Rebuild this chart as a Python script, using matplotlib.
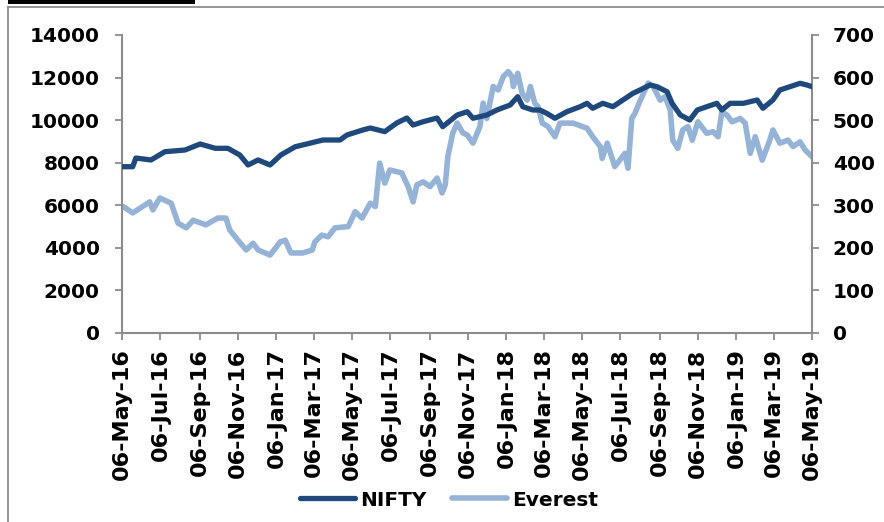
import matplotlib
matplotlib.use("Agg")
import matplotlib.pyplot as plt
import matplotlib.dates as mdates
from matplotlib.lines import Line2D
from matplotlib.patches import Rectangle
import pandas as pd

# ---------------- data ----------------
nifty_dates = [
    "2016-05-08", "2016-05-23", "2016-05-28", "2016-06-21", "2016-07-13", "2016-08-14",
    "2016-09-07", "2016-10-01", "2016-10-21", "2016-11-09", "2016-11-22", "2016-12-08",
    "2016-12-27", "2017-01-13", "2017-02-05", "2017-02-12", "2017-03-21", "2017-04-17",
    "2017-04-28", "2017-05-23", "2017-06-04", "2017-06-27", "2017-07-16", "2017-08-01",
    "2017-08-11", "2017-08-27", "2017-09-18", "2017-09-27", "2017-10-20", "2017-11-05",
    "2017-11-14", "2017-12-06", "2017-12-22", "2018-01-12", "2018-01-24", "2018-02-01",
    "2018-02-17", "2018-02-28", "2018-03-11", "2018-03-24", "2018-04-12", "2018-05-03",
    "2018-05-14", "2018-05-23", "2018-06-08", "2018-06-24", "2018-07-10", "2018-07-26",
    "2018-08-06", "2018-08-22", "2018-09-02", "2018-09-18", "2018-09-26", "2018-10-09",
    "2018-10-24", "2018-11-05", "2018-11-20", "2018-12-06", "2018-12-14", "2018-12-27",
    "2019-01-17", "2019-02-08", "2019-02-17", "2019-03-05", "2019-03-16", "2019-04-01",
    "2019-04-17", "2019-04-28", "2019-05-06",
]
nifty_values = [
    7813, 7813, 8220, 8128, 8517, 8597,
    8879, 8677, 8677, 8362, 7893, 8128,
    7893, 8362, 8752, 8800, 9067, 9067,
    9302, 9537, 9631, 9460, 9866, 10100,
    9772, 9928, 10100, 9693, 10242, 10397,
    10088, 10242, 10477, 10712, 11101, 10632,
    10477, 10477, 10322, 10088, 10397, 10632,
    10791, 10557, 10791, 10632, 10947, 11262,
    11416, 11651, 11572, 11336, 10791, 10242,
    10007, 10477, 10632, 10791, 10477, 10791,
    10791, 10947, 10557, 10947, 11416, 11572,
    11731, 11651, 11572,
]

everest_dates = [
    "2016-05-08", "2016-05-23", "2016-06-19", "2016-06-24", "2016-07-05", "2016-07-23",
    "2016-08-03", "2016-08-16", "2016-08-27", "2016-09-16", "2016-10-05", "2016-10-18",
    "2016-10-24", "2016-11-06", "2016-11-19", "2016-11-30", "2016-12-08", "2016-12-27",
    "2017-01-12", "2017-01-20", "2017-01-29", "2017-02-17", "2017-03-04", "2017-03-08",
    "2017-03-19", "2017-03-29", "2017-04-09", "2017-04-30", "2017-05-11", "2017-05-22",
    "2017-06-04", "2017-06-12", "2017-06-19", "2017-06-27", "2017-07-05", "2017-07-24",
    "2017-08-03", "2017-08-11", "2017-08-17", "2017-08-27", "2017-09-07", "2017-09-18",
    "2017-09-26", "2017-10-01", "2017-10-05", "2017-10-13", "2017-10-20", "2017-10-29",
    "2017-11-05", "2017-11-14", "2017-11-25", "2017-11-30", "2017-12-06", "2017-12-16",
    "2017-12-24", "2018-01-01", "2018-01-09", "2018-01-15", "2018-01-17", "2018-01-24",
    "2018-01-31", "2018-02-08", "2018-02-13", "2018-02-20", "2018-02-25", "2018-03-04",
    "2018-03-13", "2018-03-24", "2018-04-01", "2018-04-22", "2018-05-14", "2018-05-23",
    "2018-06-04", "2018-06-07", "2018-06-15", "2018-06-27", "2018-07-05", "2018-07-13",
    "2018-07-18", "2018-07-24", "2018-07-29", "2018-08-06", "2018-08-19", "2018-08-27",
    "2018-09-07", "2018-09-15", "2018-09-23", "2018-09-27", "2018-10-05", "2018-10-13",
    "2018-10-21", "2018-10-28", "2018-11-06", "2018-11-20", "2018-11-30", "2018-12-08",
    "2018-12-14", "2018-12-22", "2018-12-30", "2019-01-12", "2019-01-20", "2019-01-28",
    "2019-02-05", "2019-02-16", "2019-02-28", "2019-03-05", "2019-03-16", "2019-03-29",
    "2019-04-06", "2019-04-17", "2019-04-25", "2019-05-06",
]
everest_values = [
    297, 282, 308, 289, 317, 305,
    258, 247, 265, 254, 270, 270,
    242, 218, 195, 211, 195, 183,
    214, 218, 188, 188, 195, 214,
    230, 226, 247, 250, 285, 270,
    305, 297, 399, 352, 383, 376,
    344, 308, 348, 355, 344, 364,
    329, 348, 414, 470, 493, 470,
    465, 446, 485, 540, 504, 579,
    571, 602, 614, 602, 579, 610,
    563, 547, 579, 540, 532, 493,
    485, 461, 493, 493, 481, 461,
    438, 410, 446, 391, 406, 422,
    387, 504, 516, 545, 587, 579,
    547, 555, 524, 453, 434, 477,
    485, 453, 496, 469, 473, 461,
    520, 512, 496, 504, 493, 422,
    461, 406, 453, 477, 446, 453,
    438, 449, 430, 414,
]

x_start, x_end = "2016-05-06", "2019-05-06"
left_ticks = [0, 2000, 4000, 6000, 8000, 10000, 12000, 14000]
right_ticks = [0, 100, 200, 300, 400, 500, 600, 700]
series_names = ["NIFTY", "Everest"]

# ---------------- styling ----------------
DARK = "#1F497D"
LIGHT = "#95B3D7"
SPINE = "#8C8C8C"
FONT = "DejaVu Sans"
FS = 14.5

plt.rcParams["font.family"] = [FONT]

fig = plt.figure(figsize=(8.84, 5.22), dpi=100)
ax = fig.add_axes([122 / 884, 1 - 333 / 522, 690 / 884, 298 / 522])
ax2 = ax.twinx()

nd = pd.to_datetime(nifty_dates)
ed = pd.to_datetime(everest_dates)
l1, = ax.plot(nd, nifty_values, color=DARK, lw=3.8, solid_capstyle="round",
              solid_joinstyle="round", zorder=3, label=series_names[0])
l2, = ax2.plot(ed, everest_values, color=LIGHT, lw=4.0, solid_capstyle="round",
               solid_joinstyle="round", zorder=2, label=series_names[1])
ax.set_zorder(ax2.get_zorder() + 1)
ax.patch.set_visible(False)

ax.set_xlim(pd.Timestamp(x_start), pd.Timestamp(x_end))
ax.set_ylim(0, 14000)
ax2.set_ylim(0, 700)
ax.set_yticks(left_ticks)
ax2.set_yticks(right_ticks)

xt = pd.date_range(x_start, x_end, freq=pd.DateOffset(months=2))
ax.set_xticks(xt)
ax.xaxis.set_major_formatter(mdates.DateFormatter("%d-%b-%y"))

for a in (ax, ax2):
    a.spines["top"].set_visible(False)
    for s in ("left", "right", "bottom"):
        a.spines[s].set_color(SPINE)
        a.spines[s].set_linewidth(1.5)
ax.spines["right"].set_visible(False)
ax2.spines["left"].set_visible(False)
ax2.spines["bottom"].set_visible(False)

ax.tick_params(axis="y", direction="out", length=5, width=1.3, color=SPINE,
               pad=11, labelsize=FS)
ax2.tick_params(axis="y", direction="out", length=5, width=1.3, color=SPINE,
                pad=10, labelsize=FS)
ax.tick_params(axis="x", direction="out", length=5, width=1.3, color=SPINE,
               pad=6, labelsize=16, labelrotation=90)
for lab in ax.get_yticklabels() + ax2.get_yticklabels() + ax.get_xticklabels():
    lab.set_fontweight("bold")

leg = fig.legend(handles=[l1, l2], loc="center", bbox_to_anchor=(449 / 884, 1 - 500 / 522),
                 ncol=2, frameon=False, handlelength=2.7, handletextpad=0.25,
                 columnspacing=1.3, prop={"family": FONT, "weight": "bold", "size": FS})

# outer frame and header bar
fig.add_artist(Line2D([8 / 884, 8 / 884], [0, 1 - 7 / 522], transform=fig.transFigure,
                      color=SPINE, lw=1.3))
fig.add_artist(Line2D([8 / 884, 1], [1 - 7 / 522, 1 - 7 / 522], transform=fig.transFigure,
                      color=SPINE, lw=1.3))
fig.add_artist(Rectangle((8 / 884, 1 - 3.5 / 522), 187 / 884, 3.5 / 522,
                         transform=fig.transFigure, color="black", lw=0))

fig.savefig("out.png", dpi=100)
